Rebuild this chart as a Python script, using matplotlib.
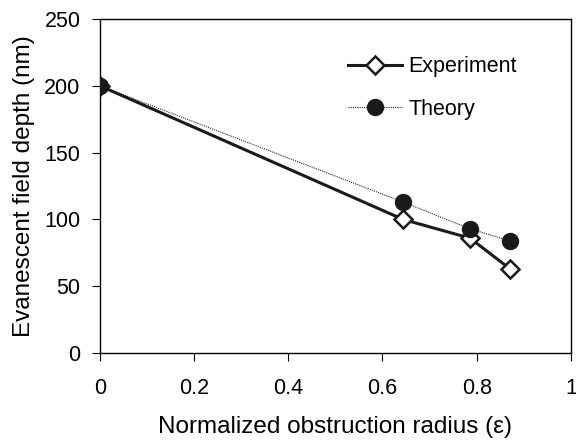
import numpy as np
import matplotlib.pyplot as plt

plt.rcParams['font.family'] = ['Liberation Sans', 'DejaVu Sans']

eps = [0, 0.644, 0.786, 0.871]
experiment = [200, 100, 86, 63]
theory = [200, 113, 93, 84]

fig = plt.figure(figsize=(5.76, 4.43), dpi=100)
ax = fig.add_axes([0.1736, 0.203, 0.8174, 0.754])

ax.plot(eps, experiment, color='#1a1a1a', lw=2.2, marker='D', ms=9,
        mfc='white', mec='#1a1a1a', mew=1.8, label='Experiment', zorder=2)
ax.plot(eps, theory, color='#222222', lw=0.8, ls=(0, (1, 1)), marker='o',
        ms=11.5, mfc='#1a1a1a', mec='#1a1a1a', label='Theory', zorder=3)

ax.set_xlim(0, 1)
ax.set_ylim(0, 250)
ax.set_xticks([0, 0.2, 0.4, 0.6, 0.8, 1])
ax.set_xticklabels(['0', '0.2', '0.4', '0.6', '0.8', '1'])
ax.set_yticks(np.arange(0, 251, 50))
ax.tick_params(labelsize=15.5, direction='out', length=6, width=0.8, pad=8)
ax.tick_params(axis='x', pad=12)
for s in ax.spines.values():
    s.set_linewidth(1.0)

ax.set_xlabel('Normalized obstruction radius (\u03b5)', fontsize=17.5, labelpad=12)
ax.set_ylabel('Evanescent field depth (nm)', fontsize=17.5, labelpad=6.5)

ax.legend(loc='upper left', bbox_to_anchor=(0.527, 0.888),
          frameon=False, fontsize=15.5, handlelength=2.5, labelspacing=1.0,
          handletextpad=0.3, borderpad=0, borderaxespad=0)

fig.savefig('out.png', dpi=100)
